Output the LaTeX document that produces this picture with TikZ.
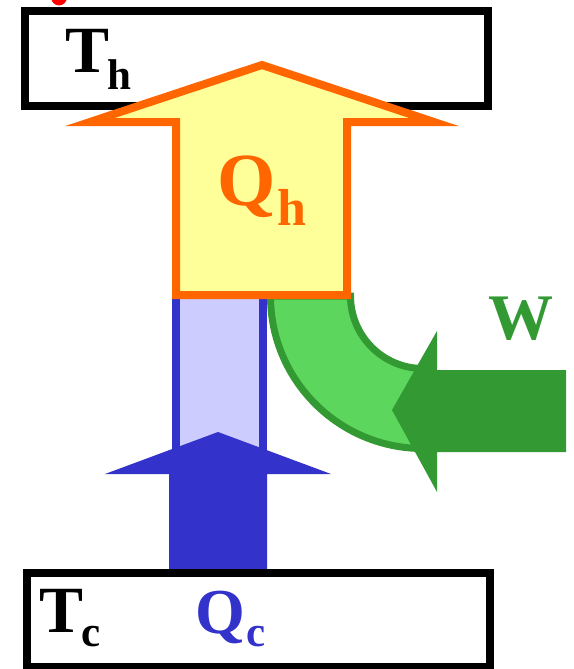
\documentclass[tikz,border=0pt]{standalone}
\usepackage{fontspec}
\setmainfont{Liberation Serif}
\definecolor{orng}{HTML}{FF6600}
\definecolor{ylw}{HTML}{FFFF99}
\definecolor{blu}{HTML}{3333CC}
\definecolor{lblu}{HTML}{CCCCFF}
\definecolor{dgrn}{HTML}{339933}
\definecolor{lgrn}{HTML}{5CD65C}
\tikzset{
  reservoir/.style={draw=black, line width=8pt},
  lbl/.style={inner sep=0pt, anchor=base west, font=\bfseries\fontsize{66}{70}\selectfont},
  sub/.style={inner sep=0pt, anchor=base west, font=\bfseries\fontsize{43}{48}\selectfont},
}
\begin{document}
\begin{tikzpicture}[x=1pt,y=-1pt]
\useasboundingbox (0,0) rectangle (573,669);
% red fragment at top
\fill[red] (59,-3) ellipse [x radius=8, y radius=8.5];
% hot reservoir
\draw[reservoir] (25,11) rectangle (488,106);
% light blue shaft
\draw[blu, fill=lblu, line width=8pt] (176,290) rectangle (263,470);
% green work band
\draw[dgrn, fill=lgrn, line width=7pt, line join=miter]
  (270.5,296) .. controls (270.5,380.2) and (338.8,448.5) .. (423,448.5)
  -- (423,368.5) .. controls (383,368.5) and (350.5,336) .. (350.5,296) -- cycle;
% blue Qc arrow
\fill[blu] (169,573) -- (169,474) -- (105,474) -- (218,432) -- (331,474) -- (267,474) -- (267,573) -- cycle;
% orange Qh arrow
\draw[orng, fill=ylw, line width=8pt, line join=miter]
  (176,295) -- (176,122) -- (90,122) -- (262,65) -- (434,122) -- (347,122) -- (347,295) -- cycle;
% green W arrow
\fill[dgrn] (566,370) -- (437,370) -- (437,331) -- (392,410) -- (437,492) -- (437,452) -- (566,452) -- cycle;
% cold reservoir
\draw[reservoir] (26.5,573) rectangle (490,667);
% labels
\node[lbl] (Th) at (65,73) {T};
\node[sub] (th) at (107,89) {h};
\node[lbl] (Tc) at (39,632) {T};
\node[sub] (tc) at (81,646) {c};
\node[lbl, text=orng, font=\bfseries\fontsize{75}{80}\selectfont] (Qh) at (217,205) {Q};
\node[sub, text=orng, font=\bfseries\fontsize{52}{56}\selectfont] (qh) at (277,225) {h};
\node[lbl, text=blu, font=\bfseries\fontsize{64}{70}\selectfont] (Qc) at (195,633) {Q};
\node[sub, text=blu] (qc) at (246,646) {c};
\node[lbl, text=dgrn, font=\bfseries\fontsize{65}{70}\selectfont] (W) at (488,339) {W};
\end{tikzpicture}
\end{document}
